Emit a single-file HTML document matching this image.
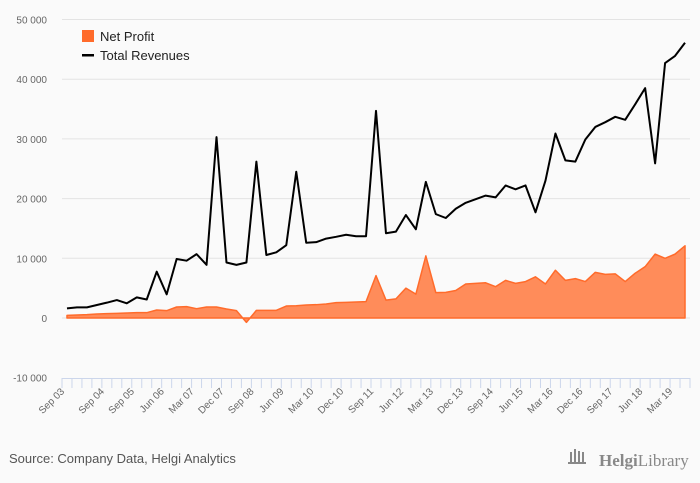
<!DOCTYPE html>
<html><head><meta charset="utf-8"><style>
body{margin:0;background:#fafafa;font-family:"Liberation Sans",sans-serif}
svg{display:block}
</style></head><body>
<svg id="chart" width="700" height="483">
<rect width="700" height="483" fill="#fafafa"/>
<g id="grid"></g><g id="yl"></g><g id="area"></g><g id="line"></g><g id="xa"></g>
<g>
<rect x="82" y="30" width="12" height="12" fill="#ff6b2b"/>
<text x="100" y="41" font-size="13" fill="#222">Net Profit</text>
<rect x="82" y="54" width="12" height="2.5" fill="#000"/>
<text x="100" y="60" font-size="13" fill="#222">Total Revenues</text>
</g>
<text x="9" y="463" font-size="13" fill="#555">Source: Company Data, Helgi Analytics</text>
<g>
<g fill="#888"><rect x="570" y="452" width="2" height="10"/><rect x="574" y="449" width="2" height="13"/><rect x="578" y="451" width="2" height="11"/><rect x="582" y="452" width="2" height="10"/><rect x="568" y="462" width="18" height="2"/></g>
<text x="599" y="466" font-size="17" fill="#888" font-family="Liberation Serif,serif"><tspan font-weight="bold">Helgi</tspan>Library</text>
</g>
</svg>
<script>
const categories=["Sep 03","","","","Sep 04","","","Sep 05","","","Jun 06","","","Mar 07","","","Dec 07","","","Sep 08","","","Jun 09","","","Mar 10","","","Dec 10","","","Sep 11","","","Jun 12","","","Mar 13","","","Dec 13","","","Sep 14","","","Jun 15","","","Mar 16","","","Dec 16","","","Sep 17","","","Jun 18","","","Mar 19","",""];
const tickLabels=["Sep 03","Sep 04","Sep 05","Jun 06","Mar 07","Dec 07","Sep 08","Jun 09","Mar 10","Dec 10","Sep 11","Jun 12","Mar 13","Dec 13","Sep 14","Jun 15","Mar 16","Dec 16","Sep 17","Jun 18","Mar 19"];
const revenues=[1620,1780,1780,2180,2570,3000,2460,3460,3100,7760,3960,9880,9600,10700,8900,30300,9300,8900,9300,26200,10550,11000,12200,24500,12600,12700,13300,13600,13950,13700,13700,34700,14200,14460,17250,14850,22800,17400,16750,18300,19300,19900,20500,20200,22200,21550,22200,17700,23000,30900,26400,26200,29900,32000,32800,33700,33200,35800,38500,25900,42700,43900,46100];
const netProfit=[450,500,560,670,730,780,840,890,890,1340,1230,1840,1900,1560,1840,1840,1500,1230,-730,1280,1280,1280,2000,2060,2180,2230,2350,2570,2620,2680,2740,7100,3000,3200,5000,4000,10400,4250,4300,4600,5700,5800,5900,5250,6300,5800,6100,6900,5700,8000,6300,6600,6100,7650,7300,7400,6100,7500,8600,10700,10000,10700,12100];
const yTicks=[-10000,0,10000,20000,30000,40000,50000];
const NS="http://www.w3.org/2000/svg";
const x0=62,x1=690,n=revenues.length,bw=(x1-x0)/n;
const xs=i=>x0+bw*(i+0.5);
const ys=v=>318-v*0.00597;
function mk(tag,attrs,parent){const e=document.createElementNS(NS,tag);for(const k in attrs)e.setAttribute(k,attrs[k]);parent.appendChild(e);return e;}
const grid=document.getElementById('grid'),yl=document.getElementById('yl');
yTicks.forEach(v=>{
  if(v!==-10000){const g=mk('line',{x1:x0,x2:x1,y1:ys(v),y2:ys(v),stroke:'#e3e3e3','stroke-width':1},grid);
  
  }
  const t=mk('text',{x:47,y:ys(v)+4,'text-anchor':'end','font-size':10,fill:'#666'},yl);
  t.textContent=v.toLocaleString('en-US').replace(/,/g,' ');
  
  
});
let d='M'+xs(0)+','+ys(0);
netProfit.forEach((v,i)=>d+=' L'+xs(i)+','+ys(v));
d+=' L'+xs(n-1)+','+ys(0)+' Z';
const a=mk('path',{d:d,fill:'#ff8c5a',stroke:'#ff6b2b','stroke-width':1.5,'stroke-linejoin':'round'},document.getElementById('area'));


const l=mk('polyline',{points:revenues.map((v,i)=>xs(i)+','+ys(v)).join(' '),fill:'none',stroke:'#000','stroke-width':2,'stroke-linejoin':'round'},document.getElementById('line'));


const xa=document.getElementById('xa');
const ax=mk('line',{x1:x0,x2:x1,y1:378.5,y2:378.5,stroke:'#ccd6eb'},xa);


for(let i=0;i<=n;i++){mk('line',{x1:x0+bw*i,x2:x0+bw*i,y1:378,y2:388,stroke:'#ccd6eb'},xa);}
categories.forEach((c,i)=>{
  if(!c)return;
  const x=x0+bw*i+3,y=392;
  const t=mk('text',{x:x,y:y,'text-anchor':'end','font-size':10,fill:'#666',transform:`rotate(-45 ${x} ${y})`},xa);
  t.textContent=c;
  
  
});
</script>
</body></html>
